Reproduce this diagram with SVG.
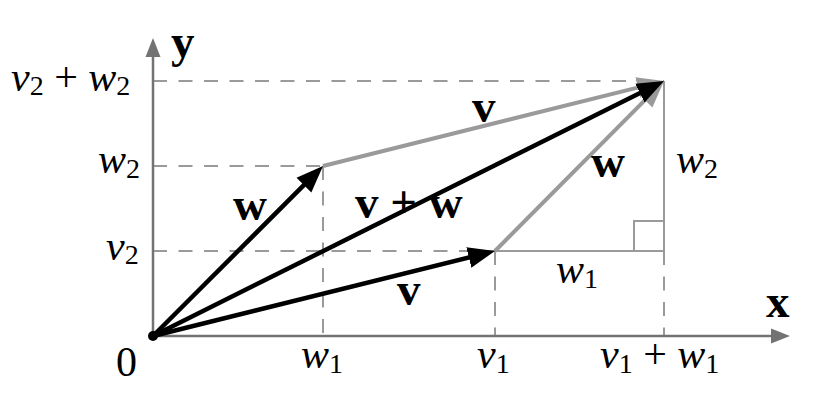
<svg xmlns="http://www.w3.org/2000/svg" width="831" height="409" viewBox="0 0 831 409">
<style>
.ax{stroke:#737373;stroke-width:2.5;fill:none}
.dash{stroke:#9a9a9a;stroke-width:2;stroke-dasharray:14 11.5;fill:none}
.thin{stroke:#9a9a9a;stroke-width:2;fill:none}
.blk{stroke:#000;stroke-width:4.5;fill:none}
.gry{stroke:#9a9a9a;stroke-width:4;fill:none}
text{font-family:"Liberation Serif","Times New Roman",serif;fill:#000}
.it{font-style:italic;font-size:42px}
.sub{font-style:normal;font-size:28px}
.bd{font-weight:bold;font-size:47px}
</style>
<defs>
<marker id="ab" markerUnits="userSpaceOnUse" markerWidth="30" markerHeight="24" viewBox="0 -12 30 24" refX="7" refY="0" orient="auto"><path d="M0,-10.5 L27,0 L0,10.5 z" fill="#000"/></marker>
<marker id="ag" markerUnits="userSpaceOnUse" markerWidth="30" markerHeight="24" viewBox="0 -12 30 24" refX="7" refY="0" orient="auto"><path d="M0,-10.5 L27,0 L0,10.5 z" fill="#9a9a9a"/></marker>
<marker id="aa" markerUnits="userSpaceOnUse" markerWidth="22" markerHeight="18" viewBox="0 -9 22 18" refX="4" refY="0" orient="auto"><path d="M0,-7.5 L19,0 L0,7.5 z" fill="#737373"/></marker>
</defs>
<g id="guides">
<path class="dash" d="M153,81 H664 M153,166 H323 M153,251 H495 M323,166 V336 M495,251 V336 M664,251 V336"/>
<path class="thin" d="M495,251 H664 V81 M634,251 V221 H664"/>
</g>
<g id="axes">
<line class="ax" x1="153" y1="336" x2="153" y2="53" marker-end="url(#aa)"/>
<line class="ax" x1="153" y1="336" x2="775" y2="336" marker-end="url(#aa)"/>
</g>
<g id="connectors">
<line id="gv" class="gry" x1="323" y1="166" x2="644.59" y2="85.84" marker-end="url(#ag)"/>
<line id="gw" class="gry" x1="495" y1="251" x2="649.90" y2="95.18" marker-end="url(#ag)"/>
<line id="bw" class="blk" x1="153" y1="336" x2="308.86" y2="180.14" marker-end="url(#ab)"/>
<line id="bv" class="blk" x1="153" y1="336" x2="475.59" y2="255.82" marker-end="url(#ab)"/>
<line id="bvw" class="blk" x1="153" y1="336" x2="646.10" y2="89.93" marker-end="url(#ab)"/>
</g>
<g id="origin"><circle cx="153" cy="336" r="5" fill="#000"/></g>
<g id="labels">
<text class="bd" x="171" y="57">y</text>
<text class="bd" x="766" y="317">x</text>
<text class="it" x="116" y="376" style="font-style:normal">0</text>
<text class="it" x="11" y="91">v<tspan class="sub" dy="4">2</tspan><tspan dy="-4" style="font-style:normal"> + </tspan>w<tspan class="sub" dy="4">2</tspan></text>
<text class="it" x="98" y="173">w<tspan class="sub" dy="5">2</tspan></text>
<text class="it" x="106" y="260">v<tspan class="sub" dy="4">2</tspan></text>
<text class="it" x="301" y="368">w<tspan class="sub" dy="5">1</tspan></text>
<text class="it" x="477" y="368">v<tspan class="sub" dy="5">1</tspan></text>
<text class="it" x="600" y="368">v<tspan class="sub" dy="5">1</tspan><tspan dy="-5" style="font-style:normal"> + </tspan>w<tspan class="sub" dy="5">1</tspan></text>
<text class="it" x="676" y="173">w<tspan class="sub" dy="5">2</tspan></text>
<text class="it" x="556" y="283">w<tspan class="sub" dy="5">1</tspan></text>
<text class="bd" x="472" y="122">v</text>
<text class="bd" x="591" y="177">w</text>
<text class="bd" x="233" y="220">w</text>
<text class="bd" x="355" y="218">v + w</text>
<text class="bd" x="397" y="305">v</text>
</g>
</svg>
